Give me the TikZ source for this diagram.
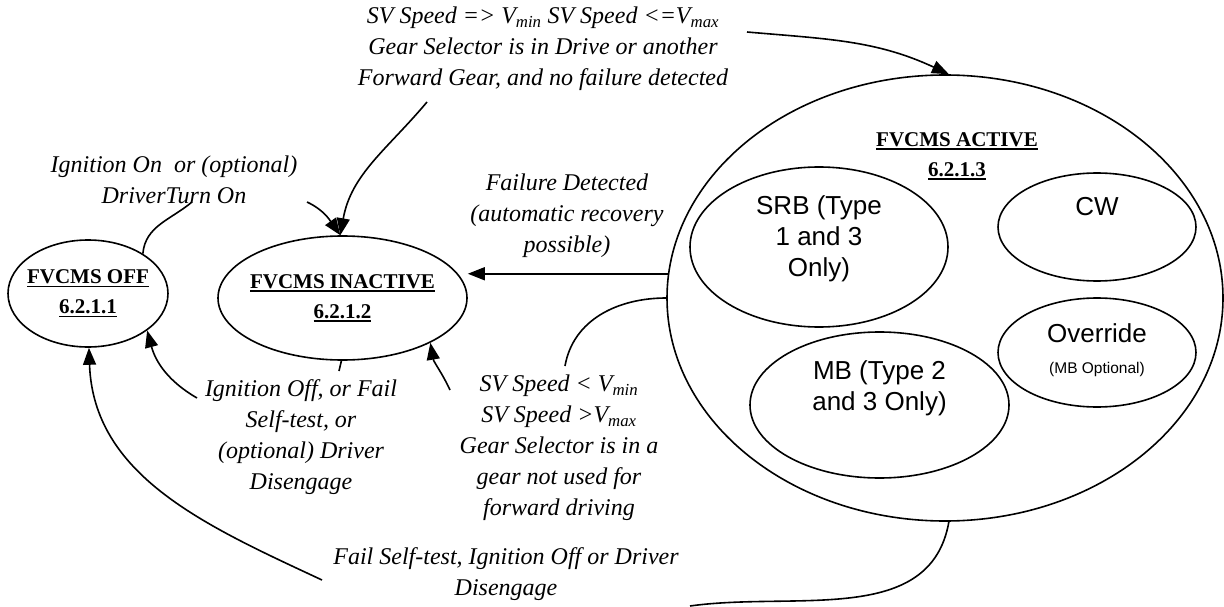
\documentclass[tikz,border=0pt]{standalone}
\usepackage{fontspec}
\setmainfont{Liberation Serif}
\setsansfont{Liberation Sans}
\usetikzlibrary{shapes.geometric, arrows.meta}

\newcommand{\statename}[1]{\setbox0\hbox{#1}\rlap{\rule[-3.5pt]{\wd0}{1.6pt}}\box0}

\begin{document}
\begin{tikzpicture}[x=1pt, y=1pt, line width=1.6pt,
            >={Triangle[length=17pt, width=13pt]},
            state/.style={ellipse, draw, inner sep=0pt},
            title/.style={align=center, font=\fontsize{21}{30}\selectfont\bfseries},
            subtext/.style={align=center, font=\fontsize{26}{31}\selectfont\sffamily},
            cond/.style={align=center, inner sep=0pt, font=\fontsize{24}{31}\selectfont\itshape}
        ]
            \useasboundingbox (0,0) rectangle (1224,-607);

            \node[state, minimum width=160pt, minimum height=107pt,
                label={[title]center:\statename{FVCMS OFF}\\\statename{6.2.1.1}}] (off) at (88,-293.5) {};
            \node[state, minimum width=249pt, minimum height=124pt,
                label={[title]center:\statename{FVCMS INACTIVE}\\\statename{6.2.1.2}}] (inactive) at (342.5,-298) {};
            \node[state, minimum width=556pt, minimum height=446pt,
                label={[title, xshift=12pt, yshift=142pt]center:\statename{FVCMS ACTIVE}\\\statename{6.2.1.3}}] (active) at (945,-298) {};

            \node[state, minimum width=258pt, minimum height=160pt,
                label={[subtext, yshift=8pt]center:SRB (Type\\1 and 3\\Only)}] (srb) at (819,-247) {};
            \node[state, minimum width=198pt, minimum height=108pt,
                label={[subtext, yshift=20pt]center:CW}] (cw) at (1097,-227) {};
            \node[state, minimum width=198pt, minimum height=109pt,
                label={[subtext, yshift=2pt]center:Override\\{\fontsize{15.5}{18}\selectfont (MB Optional)}}] (override) at (1097,-352.5) {};
            \node[state, minimum width=259pt, minimum height=146pt,
                label={[subtext, yshift=17pt]center:MB (Type 2\\and 3 Only)}] (mb) at (879.5,-405) {};

            \node[cond] (goLbl) at (543,-49) {SV Speed => V\textsubscript{min} SV Speed <=V\textsubscript{max}\\Gear Selector is in Drive or another\\Forward Gear, and no failure detected};
            \node[cond] (onLbl) at (174,-180) {Ignition On\ \ or (optional)\\DriverTurn On};
            \node[cond] (failLbl) at (567,-216) {Failure Detected\\(automatic recovery\\possible)};
            \node[cond] (offLbl) at (301,-437.5) {Ignition Off, or Fail\\Self-test, or\\(optional) Driver\\Disengage};
            \node[cond] (slowLbl) at (559,-448) {SV Speed < V\textsubscript{min}\\SV Speed >V\textsubscript{max}\\Gear Selector is in a\\gear not used for\\forward driving};
            \node[cond] (downLbl) at (506,-574) {Fail Self-test, Ignition Off or Driver\\Disengage};

            % free ends of the connectors, next to their labels
            \coordinate (goA) at (747,-32);
            \coordinate (goB) at (427,-102);
            \coordinate (onA) at (192,-202);
            \coordinate (onB) at (307,-202);
            \coordinate (offA) at (197,-398);
            \coordinate (slowA) at (565,-366);
            \coordinate (slowB) at (450,-390);
            \coordinate (downA) at (690,-606);
            \coordinate (downB) at (322,-580);
            \coordinate (stubEnd) at (339,-371);

            \draw[->] (goA) to[out=-5, in=155] (active.89);
            \draw[->] (goB) to[out=-130, in=80] (inactive.92);
            \draw (off.36) to[out=85, in=-140] (onA);
            \draw[->] (onB) to[out=-25, in=125] (inactive.92);
            \draw[->] (active.175) -- (active.175 -| inactive.east);
            \draw (active.west) to[out=180, in=80] (slowA);
            \draw[->] (slowB) to[out=115, in=-80] (inactive.-27);
            \draw[->] (offA) to[out=150, in=-75] (off.-32);
            \draw (active.-89) to[out=-100, in=8] (downA);
            \draw[->] (downB) to[out=155, in=-88] (off.-89);
            \draw (inactive.-91) -- (stubEnd);
        \end{tikzpicture}
\end{document}
